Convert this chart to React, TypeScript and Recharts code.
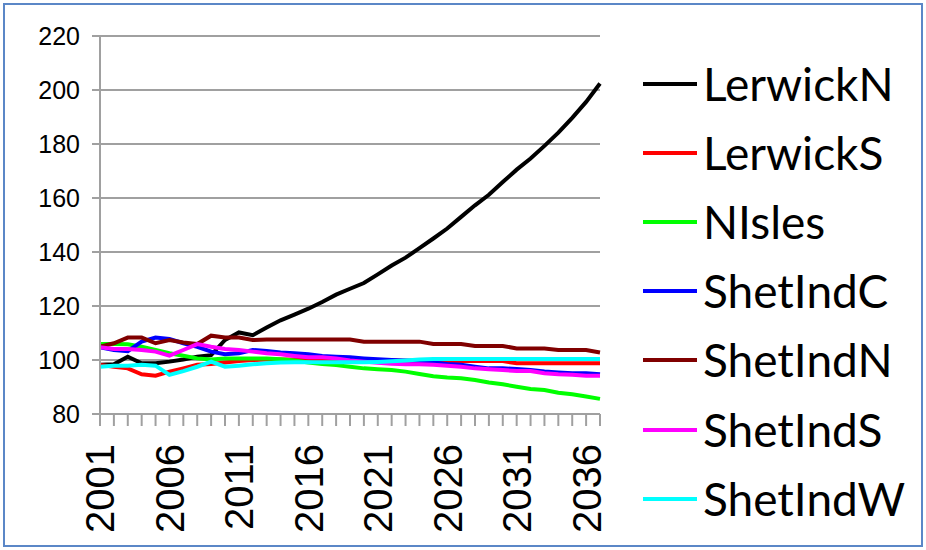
import React from "react"
import {
  LineChart,
  Line,
  XAxis,
  YAxis,
  CartesianGrid,
  Legend,
} from "recharts"

// population index by area, 2001 = 100
const years = [
  2001, 2002, 2003, 2004, 2005, 2006, 2007, 2008, 2009, 2010, 2011, 2012, 2013,
  2014, 2015, 2016, 2017, 2018, 2019, 2020, 2021, 2022, 2023, 2024, 2025, 2026,
  2027, 2028, 2029, 2030, 2031, 2032, 2033, 2034, 2035, 2036, 2037,
]

const lerwickN = [
  98.2, 98.4, 101.2, 98.8, 98.8, 99.4, 100.2, 101.2, 101.8, 107.4, 110.2, 109.2,
  112, 114.7, 116.8, 119, 121.5, 124.2, 126.4, 128.5, 131.7, 135, 137.9, 141.4,
  145, 148.7, 153, 157.3, 161.2, 165.9, 170.5, 174.6, 179.3, 184.2, 189.7, 195.6,
  202.4,
]
const lerwickS = [
  98.2, 97.5, 96.9, 94.7, 94.2, 95.7, 96.9, 98.2, 98.5, 99.1, 99.6, 100, 100.2,
  100.2, 100.2, 100.1, 100.1, 100, 100, 100, 99.9, 99.8, 99.7, 99.6, 99.6, 99.6,
  99.6, 99.6, 99.6, 99.6, 98.8, 98.8, 98.8, 98.8, 98.8, 98.8, 98.8,
]
const nIsles = [
  105.9, 105.9, 105.8, 104.9, 103.7, 102.5, 101.6, 100.6, 100.2, 100.6, 100.6,
  100.6, 100.6, 100.3, 99.8, 99.1, 98.5, 98.1, 97.5, 96.9, 96.6, 96.3, 95.7, 94.8,
  94, 93.5, 93.2, 92.6, 91.7, 91, 90.1, 89.3, 88.9, 87.9, 87.3, 86.5, 85.6,
]
const shetIndC = [
  104.7, 103.7, 103.3, 106.8, 108.3, 107.8, 106.2, 104.9, 103.1, 102.1, 102.5,
  103.7, 103.3, 102.8, 102.5, 102.1, 101.5, 101.2, 101, 100.6, 100.3, 100, 99.8,
  99.6, 99.1, 98.5, 98.2, 97.5, 96.9, 96.9, 96.7, 96.3, 95.7, 95.4, 95.1, 95.1,
  94.7,
]
const shetIndN = [
  104.9, 106.2, 108.3, 108.3, 106.2, 107.4, 106.5, 105.9, 109, 108.3, 108.3,
  107.4, 107.6, 107.6, 107.6, 107.6, 107.6, 107.6, 107.6, 106.8, 106.8, 106.8,
  106.8, 106.8, 105.9, 105.9, 105.9, 105.2, 105.2, 105.2, 104.3, 104.3, 104.3,
  103.7, 103.7, 103.7, 102.8,
]
const shetIndS = [
  104.7, 104.1, 104.1, 103.7, 103.1, 101.6, 103.7, 105.9, 104.9, 104.1, 103.7,
  103.1, 102.5, 102.1, 101.5, 101, 101, 100.6, 99.8, 99.4, 99, 98.6, 98.4, 98.4,
  98.2, 97.9, 97.5, 96.9, 96.6, 96.3, 95.9, 95.9, 95.1, 94.7, 94.5, 94.2, 94.2,
]
const shetIndW = [
  97.5, 97.9, 97.9, 98.2, 97.9, 94.5, 95.9, 97.5, 99.4, 97.5, 97.9, 98.4, 98.8,
  99.1, 99.2, 99.2, 99.2, 99.2, 99.2, 99.2, 99.3, 99.5, 99.8, 100.2, 100.4, 100.4,
  100.4, 100.4, 100.4, 100.4, 100.4, 100.4, 100.4, 100.4, 100.4, 100.4, 100.4,
]

const yTicks = [80, 100, 120, 140, 160, 180, 200, 220]

const series = [
  { key: "LerwickN", values: lerwickN, color: "#000000" },
  { key: "LerwickS", values: lerwickS, color: "#ff0000" },
  { key: "NIsles", values: nIsles, color: "#00ff00" },
  { key: "ShetIndC", values: shetIndC, color: "#0000ff" },
  { key: "ShetIndN", values: shetIndN, color: "#800000" },
  { key: "ShetIndS", values: shetIndS, color: "#ff00ff" },
  { key: "ShetIndW", values: shetIndW, color: "#00ffff" },
]

const data = years.map((year, i) => {
  const row: Record<string, number> = { year }
  series.forEach((s) => {
    row[s.key] = s.values[i]
  })
  return row
})

const axisFont = "'Liberation Sans', Arial, sans-serif"
const gridGray = "#a0a0a0"

// every year gets a tick mark, only every fifth one a label
function YearTick(props: any) {
  const { x, y, payload, index } = props
  if (index % 5 !== 0) return null
  return (
    <text
      x={x}
      y={y}
      transform={`rotate(-90, ${x}, ${y})`}
      textAnchor="end"
      dy="0.36em"
      fontSize={40}
      fontFamily={axisFont}
      fill="#000"
    >
      {payload.value}
    </text>
  )
}

function SideLegend(props: any) {
  const { payload } = props
  return (
    <div>
      {(payload || []).map((entry: any) => (
        <div
          key={entry.value}
          style={{ height: 69.2, display: "flex", alignItems: "center" }}
        >
          <svg width={60} height={8}>
            <line x1={0} y1={4} x2={54} y2={4} stroke={entry.color} strokeWidth={4} />
          </svg>
          <span
            style={{
              fontFamily: "Lato, sans-serif",
              fontSize: 46,
              color: "#000",
              lineHeight: 1,
            }}
          >
            {entry.value}
          </span>
        </div>
      ))}
    </div>
  )
}

export default function App() {
  return (
    <div style={{ position: "absolute", left: 0, top: 0, width: 926, height: 550, background: "#fff" }}>
      <div
        style={{
          position: "absolute",
          left: 3,
          top: 3,
          width: 916,
          height: 540,
          border: "2px solid #5b87c7",
        }}
      />
      <LineChart
        width={926}
        height={550}
        data={data}
        margin={{ top: 36, right: 326, bottom: 16, left: 30 }}
      >
        <CartesianGrid vertical={false} stroke={gridGray} strokeWidth={2} />
        <XAxis
          dataKey="year"
          interval={0}
          tick={<YearTick />}
          tickSize={12}
          tickMargin={18}
          height={120}
          stroke={gridGray}
          strokeWidth={2}
        />
        <YAxis
          domain={[80, 220]}
          ticks={yTicks}
          width={70}
          tickSize={8}
          tickMargin={12}
          stroke={gridGray}
          strokeWidth={2}
          tick={{ fontSize: 25, fontFamily: axisFont, fill: "#000" }}
          interval={0}
        />
        <Legend
          layout="horizontal"
          align="center"
          verticalAlign="middle"
          content={<SideLegend />}
          wrapperStyle={{ left: 643, top: 49, width: 283 }}
        />
        {series.map((s) => (
          <Line
            key={s.key}
            dataKey={s.key}
            stroke={s.color}
            strokeWidth={4}
            dot={false}
            isAnimationActive={false}
          />
        ))}
      </LineChart>
    </div>
  )
}
